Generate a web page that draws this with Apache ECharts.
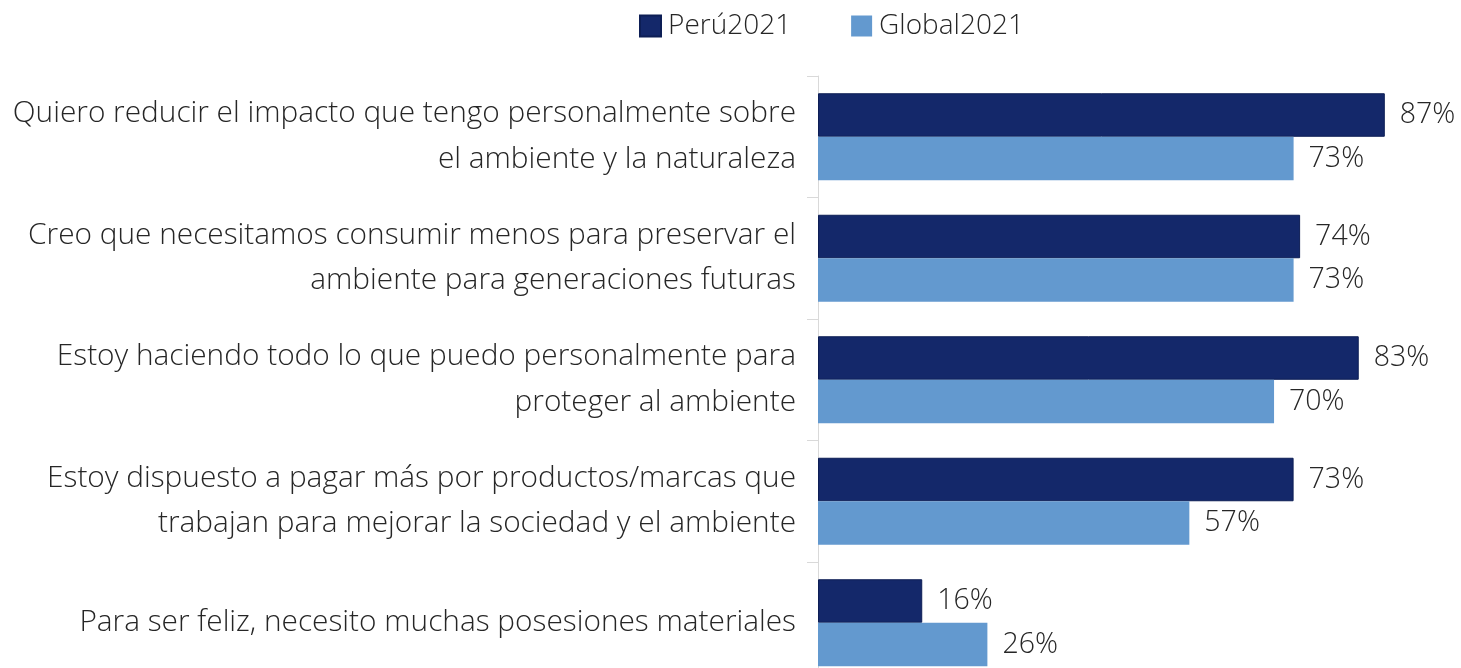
<!DOCTYPE html>
<html><head><meta charset="utf-8">
<script src="https://cdn.jsdelivr.net/npm/echarts@6/dist/echarts.min.js"></script>
<style>html,body{margin:0;padding:0;background:#fff}#c{width:1461px;height:668px}</style>
</head><body><div id="c"></div>
<script>
var categories = [
  "Quiero reducir el impacto que tengo personalmente sobre\nel ambiente y la naturaleza",
  "Creo que necesitamos consumir menos para preservar el\nambiente para generaciones futuras",
  "Estoy haciendo todo lo que puedo personalmente para\nproteger al ambiente",
  "Estoy dispuesto a pagar más por productos/marcas que\ntrabajan para mejorar la sociedad y el ambiente",
  "Para ser feliz, necesito muchas posesiones materiales"
];
var peru2021 = [87, 74, 83, 73, 16];
var global2021 = [73, 73, 70, 57, 26];
var seriesNames = ["Perú2021", "Global2021"];

var FONT = "'Open Sans', sans-serif";
var TXT = '#262626';
var chart = echarts.init(document.getElementById('c'));
function lbl() {
  return {show: true, position: 'right', distance: 15, formatter: '{c}%',
    color: TXT, fontFamily: FONT, fontSize: 28.5, fontWeight: 300};
}
chart.setOption({
  animation: false,
  legend: {
    top: 7, left: 634, itemWidth: 21, itemHeight: 21, itemGap: 60,
    icon: 'rect',
    textStyle: {color: TXT, fontFamily: FONT, fontSize: 28, fontWeight: 300, padding: [0,0,0,2]},
    data: seriesNames
  },
  grid: {left: 818, width: 651.5, top: 76, height: 607.5, containLabel: false, outerBoundsMode: 'none'},
  xAxis: {type: 'value', min: 0, max: 100, show: false, splitLine: {show: false}},
  yAxis: {
    type: 'category', inverse: true, data: categories,
    axisLine: {show: true, lineStyle: {color: '#d9d9d9', width: 1}},
    axisTick: {show: true, length: 11, lineStyle: {color: '#d9d9d9'}},
    axisLabel: {margin: 22, color: TXT, fontFamily: FONT, fontSize: 29.8, fontWeight: 300, lineHeight: 45.5,
      padding: [5, 0, 0, 0], align: 'right'}
  },
  series: [
    {name: seriesNames[0], type: 'bar', data: peru2021, barWidth: '35.8%', barGap: '0%',
     itemStyle: {color: '#14286A', borderColor: '#0d1e55', borderWidth: 1}, label: lbl()},
    {name: seriesNames[1], type: 'bar', data: global2021, barWidth: '35.8%', barGap: '0%',
     itemStyle: {color: '#6399CF'}, label: lbl()}
  ]
});
</script></body></html>
